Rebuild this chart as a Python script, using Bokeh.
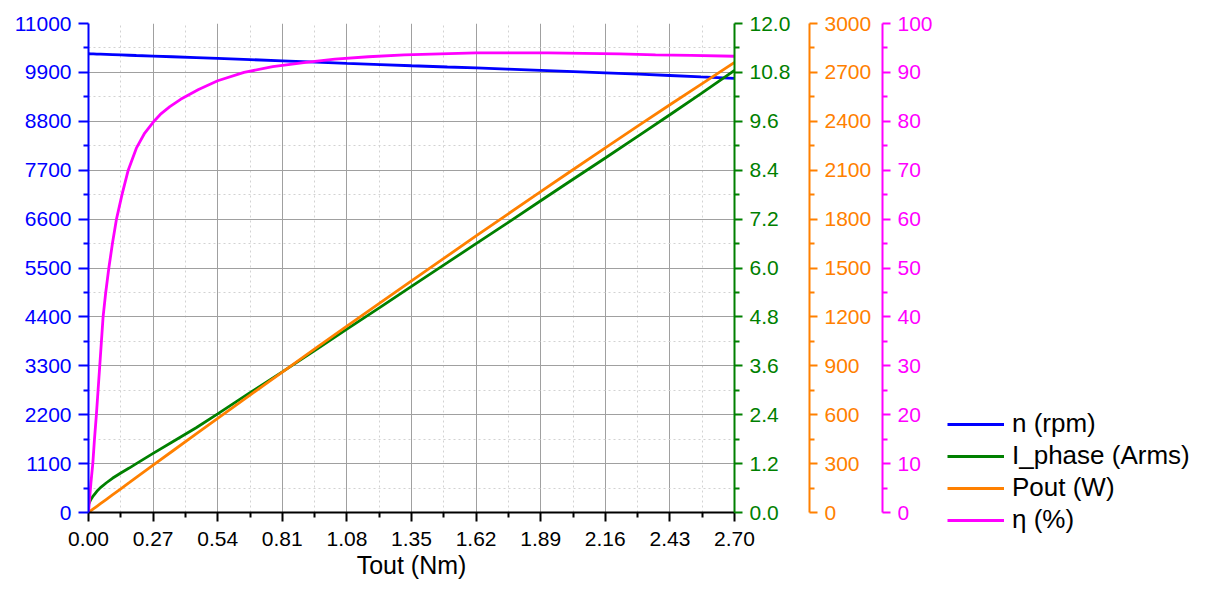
from bokeh.plotting import figure
from bokeh.layouts import row, column
from bokeh.models import (Range1d, LinearAxis, FixedTicker, PrintfTickFormatter,
                          Legend, LegendItem)
from bokeh.embed import file_html
from bokeh.resources import INLINE

# ---------------- data ----------------
torque_nm = [0.0, 0.01, 0.02, 0.035, 0.05, 0.075, 0.1, 0.135, 0.17, 0.2, 0.27, 0.35,
             0.45, 0.54, 0.675, 0.81, 0.95, 1.08, 1.22, 1.35, 1.5, 1.62, 1.75, 1.89,
             2.0, 2.16, 2.3, 2.43, 2.56, 2.7]
speed_rpm = [10320, 10318, 10316, 10313, 10310, 10305, 10300, 10293, 10286, 10280,
             10268, 10252, 10232, 10215, 10188, 10160, 10132, 10105, 10077, 10050,
             10021, 10000, 9973, 9945, 9923, 9890, 9862, 9830, 9798, 9765]
current_arms = [0.2, 0.32, 0.41, 0.52, 0.61, 0.73, 0.84, 0.97, 1.09, 1.2, 1.45, 1.73,
                2.08, 2.42, 2.94, 3.45, 3.99, 4.5, 5.04, 5.55, 6.13, 6.6, 7.1, 7.65,
                8.08, 8.7, 9.25, 9.76, 10.28, 10.85]
pout_w = [0.0, 10.8, 21.6, 37.8, 54.0, 80.9, 107.9, 145.5, 182.9, 215.3, 290.3, 375.8,
          482.2, 577.6, 720.2, 861.8, 1008.0, 1142.8, 1287.4, 1420.8, 1574.1, 1696.5,
          1827.7, 1968.3, 2078.3, 2237.1, 2375.3, 2501.4, 2626.6, 2761.0]

eff_torque_nm = [0.0, 0.005, 0.01, 0.018, 0.025, 0.033, 0.04, 0.047, 0.054, 0.061,
                 0.072, 0.085, 0.1, 0.117, 0.14, 0.166, 0.2, 0.235, 0.27, 0.3, 0.34,
                 0.385, 0.46, 0.54, 0.65, 0.77, 0.9, 1.03, 1.17, 1.32, 1.47, 1.62, 1.77,
                 1.92, 2.07, 2.22, 2.37, 2.52, 2.7]
efficiency_pct = [0.0, 3.0, 6.0, 10.0, 15.0, 20.0, 25.0, 30.0, 35.0, 40.0, 45.0, 50.0,
                  55.0, 60.0, 65.0, 70.0, 74.5, 77.6, 79.8, 81.4, 83.0, 84.5, 86.5, 88.3,
                  90.0, 91.2, 92.0, 92.7, 93.2, 93.6, 93.8, 94.0, 94.0, 94.0, 93.9, 93.8,
                  93.6, 93.5, 93.3]

x_ticks = [0.0, 0.27, 0.54, 0.81, 1.08, 1.35, 1.62, 1.89, 2.16, 2.43, 2.7]
speed_ticks = [0, 1100, 2200, 3300, 4400, 5500, 6600, 7700, 8800, 9900, 11000]
current_ticks = [0.0, 1.2, 2.4, 3.6, 4.8, 6.0, 7.2, 8.4, 9.6, 10.8, 12.0]
power_ticks = [0, 300, 600, 900, 1200, 1500, 1800, 2100, 2400, 2700, 3000]
eff_ticks = [0, 10, 20, 30, 40, 50, 60, 70, 80, 90, 100]

series_labels = ["n (rpm)", "I_phase (Arms)", "Pout (W)", "η (%)"]
x_title = "Tout (Nm)"

# ---------------- styling ----------------
FONT = "Liberation Sans"
BLUE = "#0000FF"
GREEN = "#008000"
ORANGE = "#FF8000"
MAGENTA = "#FF00FF"
TICK_FS = "21px"
LW = 2.8
MAIN_W, H = 935, 581
LEG_W = 1193 - MAIN_W


def mids(t):
    return [(a + b) / 2 for a, b in zip(t[:-1], t[1:])]


def style_axis(ax, color, ticks, fmt, standoff=7, tick_out=9, minor_out=5, pad=None):
    ax.ticker = FixedTicker(ticks=ticks, minor_ticks=mids(ticks))
    ax.formatter = PrintfTickFormatter(format=fmt)
    ax.axis_line_color = color
    ax.axis_line_width = 2
    ax.major_tick_line_color = color
    ax.major_tick_line_width = 2
    ax.minor_tick_line_color = color
    ax.minor_tick_line_width = 2
    ax.major_tick_in = 0
    ax.major_tick_out = tick_out
    ax.minor_tick_in = 0
    ax.minor_tick_out = minor_out
    ax.major_label_text_color = color
    ax.major_label_text_font = FONT
    ax.major_label_text_font_size = TICK_FS
    ax.major_label_standoff = standoff
    if pad is not None:
        ax.axis_label = " "
        ax.axis_label_text_font_size = "1px"
        ax.axis_label_standoff = pad


p = figure(width=MAIN_W, height=H,
           x_range=Range1d(0, 2.7), y_range=Range1d(0, 11000),
           output_backend="svg", toolbar_location=None,
           min_border_left=88, min_border_right=MAIN_W - 734,
           min_border_top=23, min_border_bottom=H - 515)
p.outline_line_color = None
p.background_fill_color = "white"

p.extra_y_ranges = {"cur": Range1d(0, 12), "pow": Range1d(0, 3000),
                    "eff": Range1d(0, 100)}

# bottom axis
xa = p.xaxis[0]
style_axis(xa, "black", x_ticks, "%.2f", standoff=10, tick_out=9, minor_out=5)
xa.axis_label = x_title
xa.axis_label_text_font = FONT
xa.axis_label_text_font_size = "25px"
xa.axis_label_text_font_style = "normal"
xa.axis_label_text_color = "black"
xa.axis_label_standoff = 2

# left axis
ya = p.yaxis[0]
style_axis(ya, BLUE, speed_ticks, "%d", standoff=7, tick_out=10, minor_out=5)

# right axes
ax_cur = LinearAxis(y_range_name="cur")
style_axis(ax_cur, GREEN, current_ticks, "%.1f", standoff=7, tick_out=8, minor_out=5, pad=12)
ax_pow = LinearAxis(y_range_name="pow")
style_axis(ax_pow, ORANGE, power_ticks, "%d", standoff=7, tick_out=8, minor_out=5, pad=4)
ax_eff = LinearAxis(y_range_name="eff")
style_axis(ax_eff, MAGENTA, eff_ticks, "%d", standoff=7, tick_out=8, minor_out=5)
p.add_layout(ax_cur, "right")
p.add_layout(ax_pow, "right")
p.add_layout(ax_eff, "right")

# grids
for g, t in ((p.xgrid[0], x_ticks), (p.ygrid[0], speed_ticks)):
    g.ticker = FixedTicker(ticks=t, minor_ticks=mids(t))
    g.grid_line_color = "#a0a0a0"
    g.grid_line_width = 1
    g.minor_grid_line_color = "#d2d2d2"
    g.minor_grid_line_width = 1
    g.minor_grid_line_dash = "2 3"

# lines
p.line(torque_nm, speed_rpm, line_color=BLUE, line_width=LW)
p.line(torque_nm, current_arms, line_color=GREEN, line_width=LW, y_range_name="cur")
p.line(torque_nm, pout_w, line_color=ORANGE, line_width=LW, y_range_name="pow")
p.line(eff_torque_nm, efficiency_pct, line_color=MAGENTA, line_width=LW, y_range_name="eff")

# ---------------- legend panel (separate figure to the right) ----------------
lg = figure(width=LEG_W, height=H, x_range=Range1d(10, 11), y_range=Range1d(0, 1),
            output_backend="svg", toolbar_location=None,
            x_axis_location=None, y_axis_location=None,
            min_border=0, min_border_left=0, min_border_right=0,
            min_border_top=0, min_border_bottom=0)
lg.grid.visible = False
lg.outline_line_color = None
# the same series, outside this panel's view: only their legend entries show
leg_renderers = [
    lg.line(torque_nm, speed_rpm, line_color=BLUE, line_width=LW),
    lg.line(torque_nm, current_arms, line_color=GREEN, line_width=LW),
    lg.line(torque_nm, pout_w, line_color=ORANGE, line_width=LW),
    lg.line(eff_torque_nm, efficiency_pct, line_color=MAGENTA, line_width=LW),
]
legend = Legend(items=[LegendItem(label=l, renderers=[r]) for l, r in
                       zip(series_labels, leg_renderers)],
                location=(12, 46))
legend.border_line_color = None
legend.background_fill_alpha = 0
legend.padding = 0
legend.margin = 0
legend.spacing = 1
legend.glyph_width = 57
legend.glyph_height = 30
legend.label_height = 30
legend.label_standoff = 8
legend.label_text_font = FONT
legend.label_text_font_size = "26px"
legend.label_text_color = "black"
lg.add_layout(legend, "center")

layout = row(p, column(lg), spacing=0)
open("out.html", "w").write(file_html(layout, INLINE))
